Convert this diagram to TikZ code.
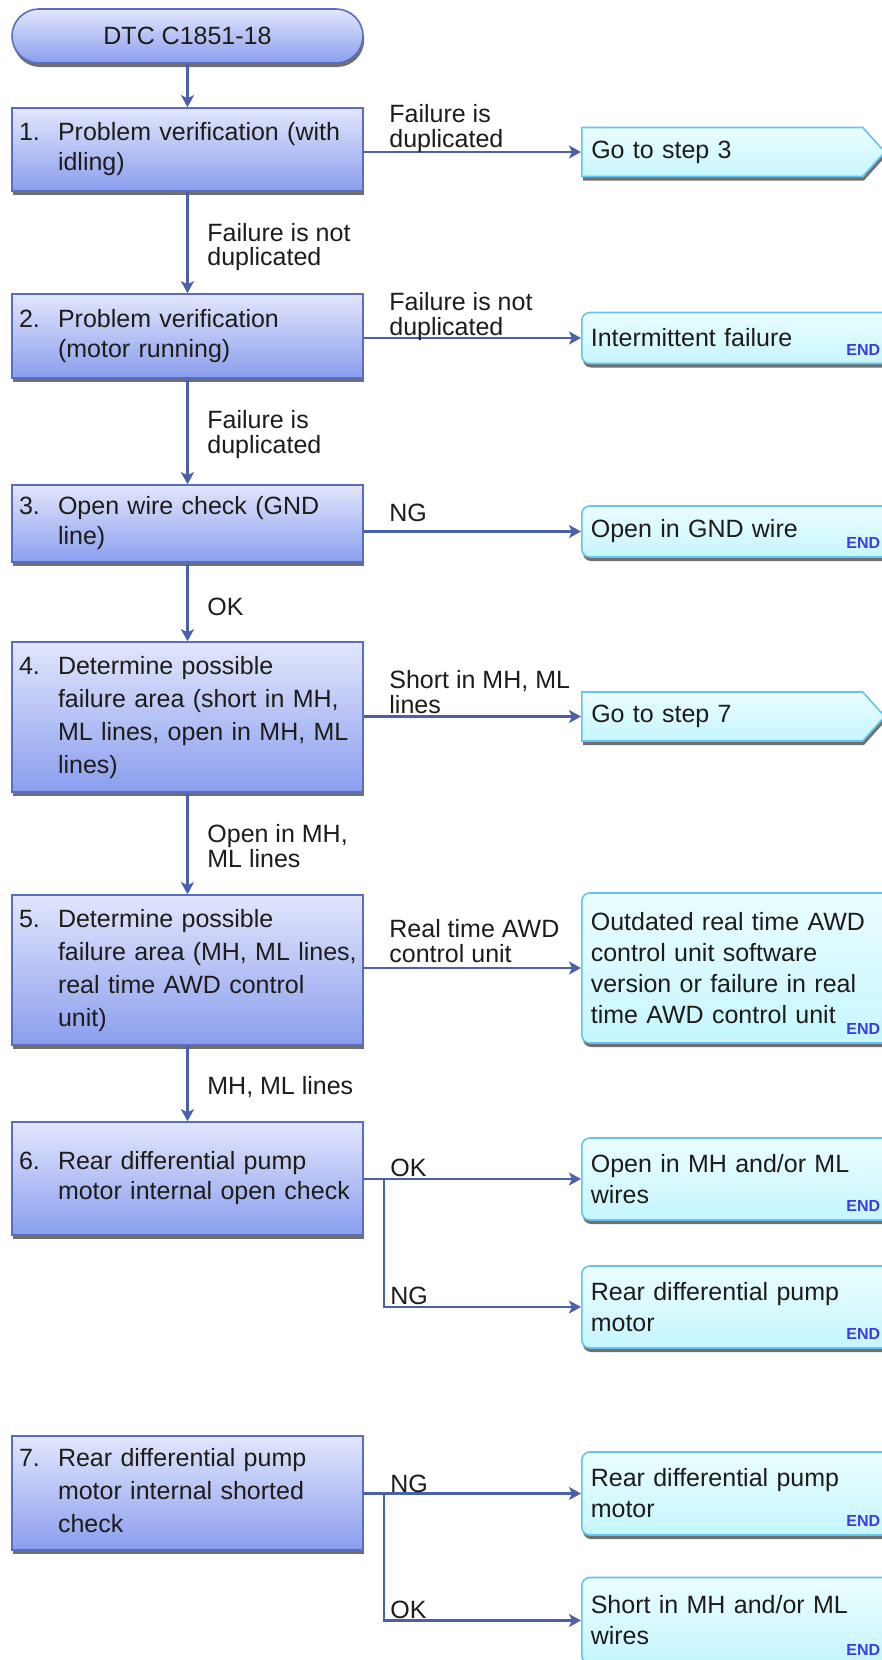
\documentclass[tikz,border=0pt]{standalone}
\usepackage{fontspec}
\setmainfont{Liberation Sans}
\usetikzlibrary{arrows.meta,shapes.symbols,shadows}

\definecolor{boxline}{RGB}{90,110,190}
\definecolor{boxtop}{RGB}{226,230,252}
\definecolor{boxbot}{RGB}{138,158,238}
\definecolor{resline}{RGB}{100,196,240}
\definecolor{restop}{RGB}{234,253,255}
\definecolor{resbot}{RGB}{198,246,254}
\definecolor{flowline}{RGB}{74,96,170}
\definecolor{endblue}{RGB}{60,60,225}
\definecolor{txt}{RGB}{30,28,25}

\newcommand{\stepno}[2]{\begin{tabular}{@{}p{19.5pt}@{}l@{}}#1&#2\end{tabular}}

\tikzset{
  boxshadow/.style={drop shadow={shadow xshift=0.6pt,shadow yshift=-2pt,opacity=0.7,fill=black!80}},
  checkbox/.style={draw=boxline, line width=0.8pt, top color=boxtop, bottom color=boxbot, boxshadow,
    text width=168.5pt, inner xsep=3.5pt, minimum width=175.5pt, align=left, text=txt,
    font=\fontsize{12.5}{15}\selectfont},
  startbox/.style={draw=boxline, line width=0.8pt, top color=boxtop, bottom color=boxbot, boxshadow,
    rounded corners=13.5pt, minimum width=175.5pt, minimum height=27pt, text=txt,
    font=\fontsize{12.5}{15}\selectfont},
  resbox/.style={draw=resline, line width=0.8pt, top color=restop, bottom color=resbot, boxshadow,
    rounded corners=4pt, anchor=west, text width=146.5pt, inner xsep=4.5pt, minimum width=155.5pt,
    align=left, text=txt, font=\fontsize{12.5}{15.5}\selectfont},
  gotobox/.style={resbox, sharp corners, signal, signal to=east, signal pointer angle=96,
    text width=131pt, minimum width=151.5pt},
  endtag/.style={text=endblue, font=\fontsize{8}{9}\selectfont\bfseries, inner sep=0pt, anchor=base west},
  lbl/.style={inner sep=0pt, anchor=base west, align=left, text=txt, font=\fontsize{12.5}{12.25}\selectfont},
  flow/.style={draw=flowline, line width=1.1pt, -{Stealth[length=6pt,width=6.5pt,inset=1.5pt]}}
}

\begin{document}
\begin{tikzpicture}[x=0.5pt,y=-0.5pt]
  \useasboundingbox (0,0) rectangle (882,1660);
  \clip (0,0) rectangle (882,1660);
  \fill[white] (0,0) rectangle (882,1660);

  \node[startbox] (start) at (187.5,36) {DTC C1851-18};
  \node[checkbox, minimum height=41.5pt] (box1) at (187.5,149.5) {\stepno{1.}{Problem verification (with\\&idling)}};
  \node[checkbox, minimum height=42pt] (box2) at (187.5,336) {\stepno{2.}{Problem verification\\&(motor running)}};
  \node[checkbox, minimum height=38.5pt] (box3) at (187.5,523.5) {\stepno{3.}{Open wire check (GND\\&line)}};
  \node[checkbox, minimum height=75pt, font=\fontsize{12.5}{16.5}\selectfont] (box4) at (187.5,717) {\stepno{4.}{Determine possible\\&failure area (short in MH,\\&ML lines, open in MH, ML\\&lines)}};
  \node[checkbox, minimum height=75pt, font=\fontsize{12.5}{16.5}\selectfont] (box5) at (187.5,970) {\stepno{5.}{Determine possible\\&failure area (MH, ML lines,\\&real time AWD control\\&unit)}};
  \node[checkbox, minimum height=56.5pt] (box6) at (187.5,1178.5) {\stepno{6.}{Rear differential pump\\&motor internal open check}};
  \node[checkbox, minimum height=57pt, font=\fontsize{12.5}{16.5}\selectfont] (box7) at (187.5,1493) {\stepno{7.}{Rear differential pump\\&motor internal shorted\\&check}};

  \node[gotobox, minimum height=24.5pt] (goto3) at (581,152) {Go to step 3};
  \node[resbox, minimum height=25.5pt] (res2) at (581,338) {Intermittent failure};
  \node[resbox, minimum height=25.5pt] (res3) at (581,531.5) {Open in GND wire};
  \node[gotobox, minimum height=24.5pt] (goto7) at (581,716.5) {Go to step 7};
  \node[resbox, minimum height=75pt] (res5) at (581,968) {Outdated real time AWD\\control unit software\\version or failure in real\\time AWD control unit};
  \node[resbox, minimum height=41pt] (res6a) at (581,1179) {Open in MH and/or ML\\wires};
  \node[resbox, minimum height=41pt] (res6b) at (581,1307) {Rear differential pump\\motor};
  \node[resbox, minimum height=41.5pt] (res7a) at (581,1493.5) {Rear differential pump\\motor};
  \node[resbox, minimum height=43pt] (res7b) at (581,1620.5) {Short in MH and/or ML\\wires};

  \foreach \rname in {res2,res3,res5,res6a,res6b,res7a,res7b}
    \path (\rname.south west) ++(265,-9) node[endtag] (end-\rname) {END};

  \draw[flow] (start) -- (box1);
  \draw[flow] (box1) -- (box2);
  \draw[flow] (box2) -- (box3);
  \draw[flow] (box3) -- (box4);
  \draw[flow] (box4) -- (box5);
  \draw[flow] (box5) -- (box6);

  \draw[flow] (goto3.west -| box1.east) -- (goto3.west);
  \draw[flow] (res2.west -| box2.east) -- (res2.west);
  \draw[flow] (res3.west -| box3.east) -- (res3.west);
  \draw[flow] (goto7.west -| box4.east) -- (goto7.west);
  \draw[flow] (res5.west -| box5.east) -- (res5.west);
  \coordinate (fork6) at (384,1179);
  \draw[flow] (res6a.west -| box6.east) -- (res6a.west);
  \draw[flow] (fork6) |- (res6b.west);
  \coordinate (fork7) at (384,1493.5);
  \draw[flow] (res7a.west -| box7.east) -- (res7a.west);
  \draw[flow] (fork7) |- (res7b.west);

  \node[lbl] (l12) at (207,265.5) {Failure is not\\duplicated};
  \node[lbl] (l23) at (207,453) {Failure is\\duplicated};
  \node[lbl] (l34) at (207,615) {OK};
  \node[lbl] (l45) at (207,867) {Open in MH,\\ML lines};
  \node[lbl] (l56) at (207,1094) {MH, ML lines};
  \node[lbl] (l1r) at (389,147) {Failure is\\duplicated};
  \node[lbl] (l2r) at (389,335) {Failure is not\\duplicated};
  \node[lbl] (l3r) at (389,521) {NG};
  \node[lbl] (l4r) at (389,713) {Short in MH, ML\\lines};
  \node[lbl] (l5r) at (389,962) {Real time AWD\\control unit};
  \node[lbl] (l6a) at (390,1176) {OK};
  \node[lbl] (l6b) at (390,1304) {NG};
  \node[lbl] (l7a) at (390,1492) {NG};
  \node[lbl] (l7b) at (390,1618) {OK};
\end{tikzpicture}
\end{document}
